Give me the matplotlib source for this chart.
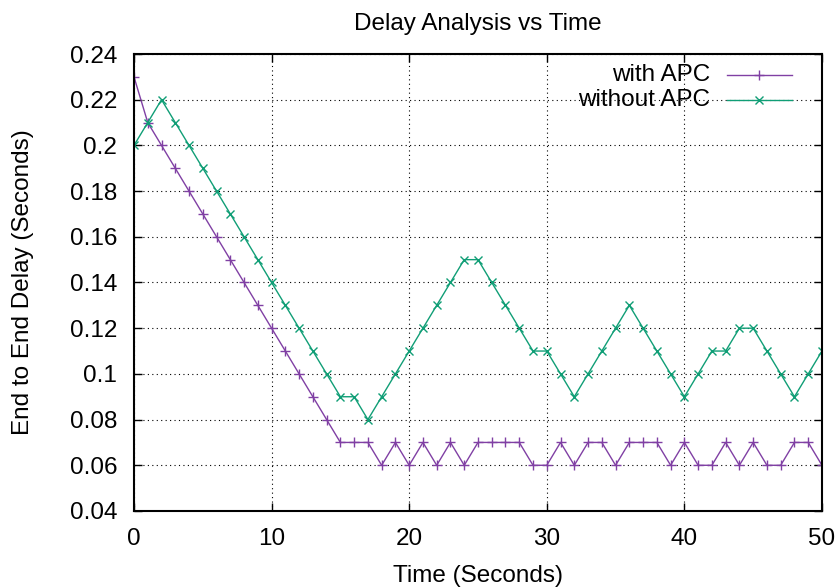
import matplotlib
matplotlib.use("Agg")
import matplotlib.pyplot as plt

plt.rcParams['font.family'] = ['Liberation Sans', 'DejaVu Sans']

time_s = list(range(0, 51))
with_apc = [0.23, 0.21, 0.20, 0.19, 0.18, 0.17, 0.16, 0.15, 0.14, 0.13,
            0.12, 0.11, 0.10, 0.09, 0.08, 0.07, 0.07, 0.07, 0.06, 0.07,
            0.06, 0.07, 0.06, 0.07, 0.06, 0.07, 0.07, 0.07, 0.07, 0.06,
            0.06, 0.07, 0.06, 0.07, 0.07, 0.06, 0.07, 0.07, 0.07, 0.06,
            0.07, 0.06, 0.06, 0.07, 0.06, 0.07, 0.06, 0.06, 0.07, 0.07,
            0.06]
without_apc = [0.20, 0.21, 0.22, 0.21, 0.20, 0.19, 0.18, 0.17, 0.16, 0.15,
               0.14, 0.13, 0.12, 0.11, 0.10, 0.09, 0.09, 0.08, 0.09, 0.10,
               0.11, 0.12, 0.13, 0.14, 0.15, 0.15, 0.14, 0.13, 0.12, 0.11,
               0.11, 0.10, 0.09, 0.10, 0.11, 0.12, 0.13, 0.12, 0.11, 0.10,
               0.09, 0.10, 0.11, 0.11, 0.12, 0.12, 0.11, 0.10, 0.09, 0.10,
               0.11]
series_labels = ["with APC", "without APC"]
x_ticks = [0, 10, 20, 30, 40, 50]
y_ticks = [0.04, 0.06, 0.08, 0.10, 0.12, 0.14, 0.16, 0.18, 0.20, 0.22, 0.24]
y_tick_labels = ["0.04", "0.06", "0.08", "0.1", "0.12", "0.14", "0.16",
                 "0.18", "0.2", "0.22", "0.24"]

purple = "#8040a4"
green = "#109e76"
fs = 17.5

fig = plt.figure(figsize=(8.39, 5.87), dpi=100)
ax = fig.add_axes([0.1597, 0.1295, 0.82, 0.7785])

ax.plot(time_s, with_apc, color=purple, lw=1.0, marker='+', ms=7, mew=1.0)
ax.plot(time_s, without_apc, color=green, lw=1.0, marker='x', ms=6, mew=1.0)

ax.set_xlim(0, 50)
ax.set_ylim(0.04, 0.24)
ax.set_xticks(x_ticks)
ax.set_yticks(y_ticks)
ax.set_yticklabels(y_tick_labels)
ax.tick_params(direction='in', length=6, width=1.0, labelsize=fs,
               top=True, right=True, pad=12)
ax.grid(True, color='black', linestyle=(0, (1, 3)), lw=0.8)
for sp in ax.spines.values():
    sp.set_linewidth(1.5)

ax.set_xlabel("Time (Seconds)", fontsize=fs, labelpad=11)
ax.set_ylabel("End to End Delay (Seconds)", fontsize=fs, labelpad=26)
ax.set_title("Delay Analysis vs Time", fontsize=fs, pad=17)

# key in the upper right, text right-aligned before the line sample
key_rows = [(series_labels[0], purple, '+', 7), (series_labels[1], green, 'x', 6)]
for i, (lab, col, mk, ms) in enumerate(key_rows):
    yk = 0.954 - i * 0.054
    ax.text(0.837, yk, lab, transform=ax.transAxes, ha='right', va='center',
            fontsize=fs)
    ax.plot([0.862, 0.956], [yk, yk], transform=ax.transAxes, color=col, lw=1.0)
    ax.plot([0.908], [yk], transform=ax.transAxes, color=col, marker=mk,
            ms=ms, mew=1.0)

fig.savefig("out.png", dpi=100)
